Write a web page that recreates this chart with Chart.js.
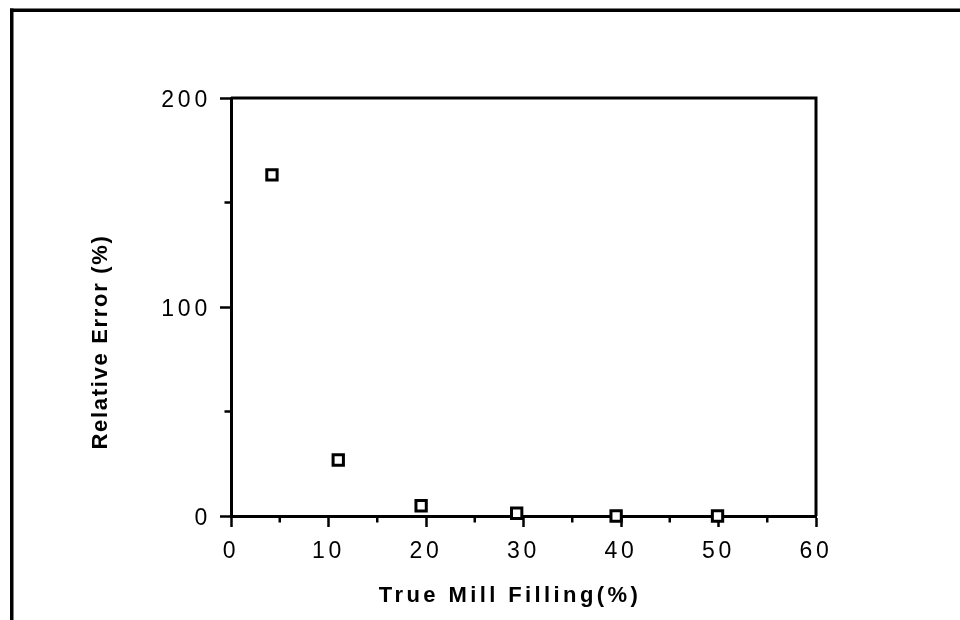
<!DOCTYPE html>
<html>
<head>
<meta charset="utf-8">
<script src="https://cdn.jsdelivr.net/npm/chart.js@4/dist/chart.umd.min.js"></script>
<style>
  html, body { margin: 0; padding: 0; background: #fff; }
  canvas { display: block; }
</style>
</head>
<body>
<canvas id="chart" width="960" height="620"></canvas>
<script>
// Measured mill filling against the relative error of the estimate
const fillingPct = [4.2, 11.0, 19.5, 29.3, 39.5, 49.9];
const relErrorPct = [163.2, 26.8, 4.9, 1.3, 0.0, 0.0];

const xTicks = [0, 10, 20, 30, 40, 50, 60];
const yTicks = [0, 100, 200];
const xMinorTicks = [5, 15, 25, 35, 45, 55];
const yMinorTicks = [50, 150];

const xTitle = 'True Mill Filling(%)';
const yTitle = 'Relative Error (%)';

const FONT = '"Liberation Sans", Arial, Helvetica, sans-serif';
const points = fillingPct.map((x, i) => ({ x, y: relErrorPct[i] }));

// Tick labels in the figure are widely tracked
function setTracking(chart) { chart.ctx.letterSpacing = '3.8px'; }

const decorations = {
  id: 'decorations',
  beforeLayout: setTracking,
  beforeDraw: setTracking,
  afterDraw(chart) {
    const ctx = chart.ctx;
    const a = chart.chartArea;
    const xs = chart.scales.x, ys = chart.scales.y;
    ctx.save();
    ctx.letterSpacing = '0px';
    ctx.fillStyle = '#000';
    ctx.strokeStyle = '#000';

    // outer figure frame (top and left edges)
    ctx.fillRect(10, 8.5, 950, 3.5);
    ctx.fillRect(10, 8.5, 3.5, 612);

    // closing top and right sides of the plot box
    ctx.lineWidth = 3;
    ctx.beginPath();
    ctx.moveTo(a.left, a.top);
    ctx.lineTo(a.right, a.top);
    ctx.lineTo(a.right, a.bottom);
    ctx.stroke();

    // minor ticks
    ctx.lineWidth = 2.5;
    ctx.beginPath();
    xMinorTicks.forEach(v => {
      const px = xs.getPixelForValue(v);
      ctx.moveTo(px, a.bottom);
      ctx.lineTo(px, a.bottom + 6.5);
    });
    yMinorTicks.forEach(v => {
      const py = ys.getPixelForValue(v);
      ctx.moveTo(a.left, py);
      ctx.lineTo(a.left - 6.5, py);
    });
    ctx.stroke();

    // axis titles
    ctx.font = 'bold 22px ' + FONT;
    ctx.textBaseline = 'alphabetic';
    ctx.textAlign = 'center';
    ctx.letterSpacing = '3.4px';
    ctx.fillText(xTitle, 510, 601.5);

    ctx.translate(107, 342);
    ctx.rotate(-Math.PI / 2);
    ctx.letterSpacing = '1.7px';
    ctx.fillText(yTitle, 0, 0);
    ctx.restore();
  }
};

new Chart(document.getElementById('chart'), {
  type: 'scatter',
  data: {
    datasets: [
      {
        data: points,
        pointStyle: 'rect',
        pointRadius: 7.3,
        pointHoverRadius: 7.3,
        pointBorderWidth: 3,
        borderColor: '#000',
        backgroundColor: '#fff',
        clip: false
      },
      {
        data: points,
        pointStyle: 'rect',
        pointRadius: 2.8,
        pointHoverRadius: 2.8,
        pointBorderWidth: 0,
        borderColor: '#000',
        backgroundColor: '#000',
        clip: false
      }
    ]
  },
  options: {
    responsive: false,
    animation: false,
    devicePixelRatio: 1,
    events: [],
    layout: { padding: { top: 98, right: 144, left: 0, bottom: 0 } },
    plugins: {
      legend: { display: false },
      tooltip: { enabled: false },
      title: { display: false }
    },
    scales: {
      x: {
        type: 'linear',
        min: 0,
        max: 60,
        afterFit(scale) { scale.height = 104; },
        afterBuildTicks(scale) { scale.ticks = xTicks.map(v => ({ value: v })); },
        ticks: {
          color: '#000',
          font: { family: FONT, size: 23 },
          padding: 11,
          maxRotation: 0,
          autoSkip: false
        },
        grid: {
          drawOnChartArea: false,
          drawTicks: true,
          tickLength: 11,
          tickWidth: 2.5,
          tickColor: '#000'
        },
        border: { color: '#000', width: 3 }
      },
      y: {
        type: 'linear',
        min: 0,
        max: 200,
        afterFit(scale) { scale.width = 231; },
        afterBuildTicks(scale) { scale.ticks = yTicks.map(v => ({ value: v })); },
        ticks: {
          color: '#000',
          font: { family: FONT, size: 23 },
          padding: 9,
          labelOffset: 3,
          autoSkip: false
        },
        grid: {
          drawOnChartArea: false,
          drawTicks: true,
          tickLength: 11,
          tickWidth: 2.5,
          tickColor: '#000'
        },
        border: { color: '#000', width: 3 }
      }
    }
  },
  plugins: [decorations]
});
</script>
</body>
</html>
